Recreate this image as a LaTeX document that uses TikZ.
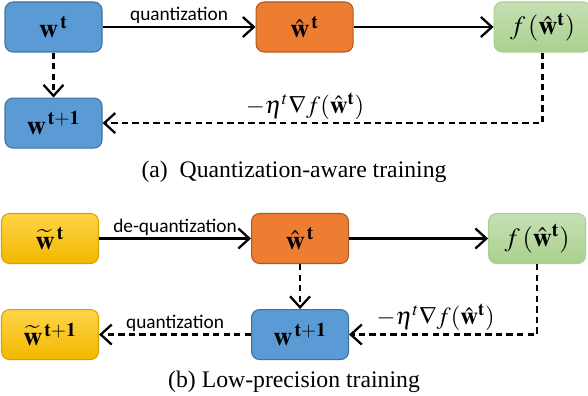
\documentclass[tikz,border=0pt]{standalone}
\usepackage{mathptmx}
\usepackage{fontspec}
\setmainfont{Liberation Serif}
\newfontfamily\labelfont{Carlito}
\usetikzlibrary{arrows.meta, positioning}

\definecolor{boxblue}{HTML}{5B9BD5}
\definecolor{blueedge}{HTML}{41719C}
\definecolor{boxorange}{HTML}{ED7D31}
\definecolor{orangeedge}{HTML}{AE5A21}
\definecolor{greentop}{HTML}{C5E0B4}
\definecolor{greenbot}{HTML}{A9D18E}
\definecolor{greenedge}{HTML}{A9D18E}
\definecolor{yellowtop}{HTML}{FFD447}
\definecolor{yellowbot}{HTML}{F2B800}
\definecolor{yellowedge}{HTML}{D6A300}

\begin{document}
\begin{tikzpicture}[
    every node/.style={align=center},
    box/.style={draw, rectangle, rounded corners=0.16cm, minimum width=1.94cm, minimum height=1cm, line width=0.6pt, font=\fontsize{15}{17}\selectfont},
    bluebox/.style={box, fill=boxblue, draw=blueedge},
    orangebox/.style={box, fill=boxorange, draw=orangeedge},
    greenbox/.style={box, top color=greentop, bottom color=greenbot, draw=greenedge},
    yellowbox/.style={box, top color=yellowtop, bottom color=yellowbot, draw=yellowedge},
    arrow/.style={-{Straight Barb[length=2.2mm, width=4mm, line width=1.3pt]}, line width=1.4pt},
    dasharrow/.style={arrow, dash pattern=on 3.6pt off 2.4pt},
    lbl/.style={font=\labelfont\fontsize{11}{13}\selectfont, inner sep=1pt},
    grad/.style={font=\fontsize{14}{16}\selectfont, inner sep=1.5pt},
    captext/.style={font=\fontsize{13.5}{16}\selectfont}
]
\useasboundingbox (0,0) rectangle (11.76,-7.92);

% (a) quantization-aware training
\node[bluebox] (wt) at (1.07,-0.54) {$\mathbf{w}^{\,\mathbf{t}}$};
\node[orangebox, right=3.06cm of wt] (what) {$\hat{\mathbf{w}}^{\,\mathbf{t}}$};
\node[greenbox, right=2.8cm of what] (fw) {$f\,(\hat{\mathbf{w}}^{\mathbf{t}})$};
\node[bluebox, below=0.9cm of wt] (wnext) {$\mathbf{w}^{\,\mathbf{t+1}}$};
\node[captext] (capa) at (5.88,-3.44) {(a)\ \ Quantization-aware training};

\draw[arrow] (wt) -- node[lbl, above] {quantization} (what);
\draw[arrow] (what) -- (fw);
\draw[dasharrow] (wt) -- (wnext);
\draw[dasharrow] (fw) |- node[grad, pos=0.77, above] {$-\eta^{t}\nabla f(\hat{\mathbf{w}}^{\mathbf{t}})$} (wnext);

% (b) low-precision training
\node[yellowbox] (wtil) at (1.0,-4.77) {$\widetilde{\mathbf{w}}^{\,\mathbf{t}}$};
\node[orangebox, right=3.04cm of wtil] (what2) {$\hat{\mathbf{w}}^{\,\mathbf{t}}$};
\node[greenbox, right=2.78cm of what2] (fw2) {$f\,(\hat{\mathbf{w}}^{\mathbf{t}})$};
\node[bluebox, below=0.9cm of what2] (wnext2) {$\mathbf{w}^{\,\mathbf{t+1}}$};
\node[yellowbox, below=0.9cm of wtil] (wtilnext) {$\widetilde{\mathbf{w}}^{\,\mathbf{t+1}}$};
\node[captext] (capb) at (5.88,-7.64) {(b)\ Low-precision training};

\draw[arrow] (wtil) -- node[lbl, above] {de-quantization} (what2);
\draw[arrow] (what2) -- (fw2);
\draw[dasharrow] (what2) -- (wnext2);
\draw[dasharrow] (fw2) |- node[grad, pos=0.77, above] {$-\eta^{t}\nabla f(\hat{\mathbf{w}}^{\mathbf{t}})$} (wnext2);
\draw[dasharrow] (wnext2) -- node[lbl, above] {quantization} (wtilnext);

\end{tikzpicture}
\end{document}
